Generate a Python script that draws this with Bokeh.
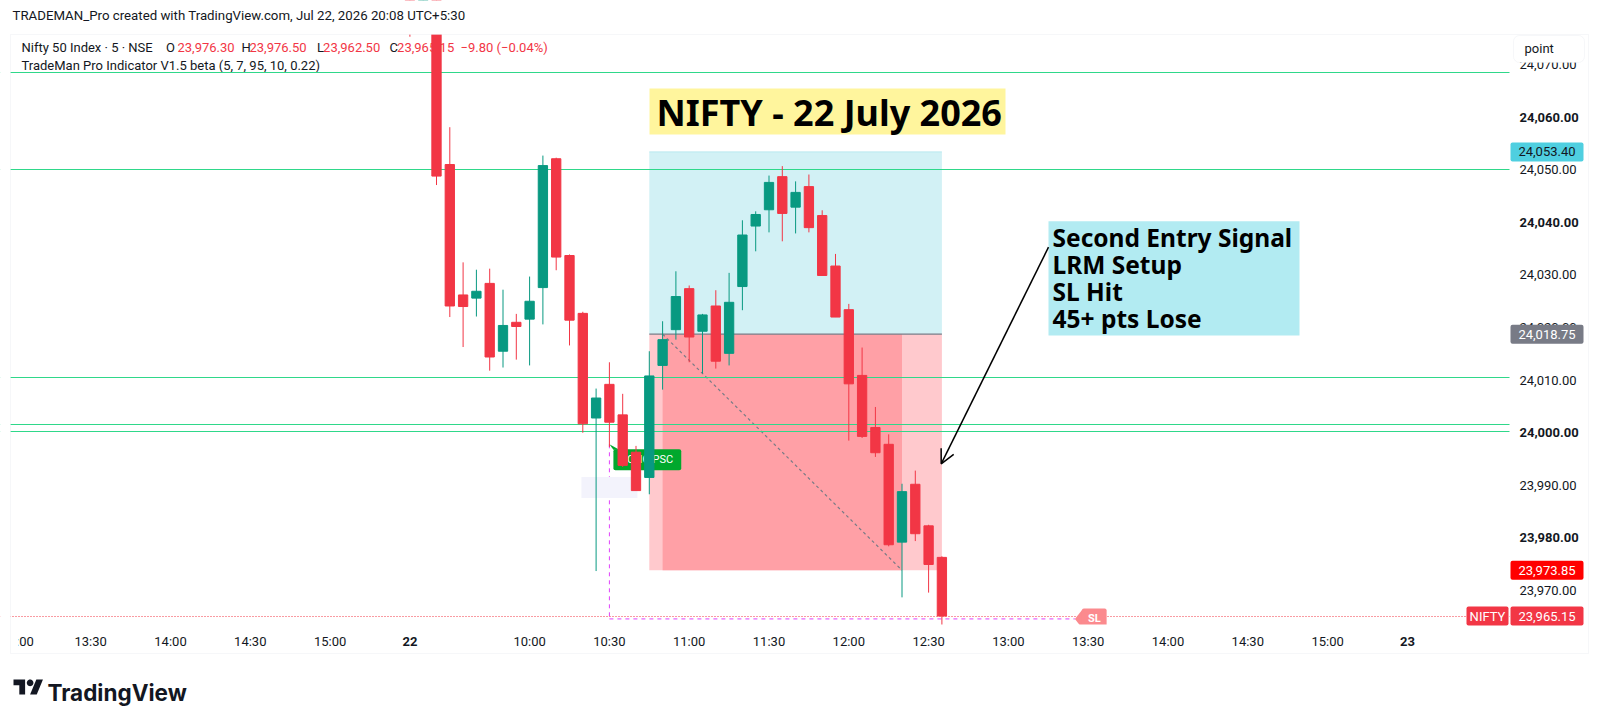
from bokeh.plotting import figure
from bokeh.models import (Range1d, FixedTicker, NumeralTickFormatter, Label, BoxAnnotation,
                          Arrow, OpenHead, PolyAnnotation, ColumnDataSource)
from bokeh.embed import file_html
from bokeh.resources import INLINE
from bokeh.core.properties import value
import math

# ---------------- data (5-minute bars, index 0 = 09:15 on 22 Jul) ----------------
bar_index = list(range(41))
opens = [24100.0, 24086.0, 24090.0, 24051.0, 24026.2, 24025.6, 24028.4, 24015.5, 24021.0, 24021.6,
         24027.6, 24052.1, 24033.7, 24022.7, 24002.8, 24009.2, 24003.4, 23996.3, 23991.5, 24012.8,
         24019.6, 24027.4, 24019.3, 24024.1, 24015.1, 24027.8, 24039.3, 24042.4, 24048.7, 24042.9,
         24046.8, 24041.3, 24031.7, 24023.4, 24010.9, 24001.0, 23997.8, 23979.2, 23990.2, 23982.3,
         23976.30]
highs = [24108.0, 24094.0, 24092.0, 24058.1, 24032.4, 24031.0, 24031.2, 24027.2, 24022.6, 24029.7,
         24052.7, 24052.3, 24033.9, 24023.0, 24008.4, 24013.4, 24007.4, 23997.5, 24015.5, 24021.2,
         24030.7, 24028.0, 24022.6, 24027.1, 24030.4, 24040.4, 24042.1, 24048.9, 24050.7, 24047.8,
         24049.1, 24042.3, 24034.0, 24024.5, 24016.2, 24004.9, 23999.7, 23990.3, 23992.8, 23982.5,
         23976.50]
lows = [24075.3, 24079.0, 24047.1, 24022.0, 24016.3, 24022.1, 24011.8, 24012.4, 24013.9, 24012.8,
        24020.6, 24030.9, 24016.6, 24000.0, 23973.7, 23997.3, 23993.5, 23989.0, 23988.3, 24008.2,
        24017.7, 24013.4, 24011.3, 24012.2, 24012.8, 24023.3, 24034.5, 24038.1, 24036.4, 24037.9,
        24038.1, 24029.9, 24022.0, 23998.5, 23999.0, 23995.4, 23978.4, 23968.7, 23979.4, 23969.6,
        23962.50]
closes = [24086.0, 24090.0, 24048.8, 24024.1, 24024.0, 24026.9, 24014.4, 24020.4, 24020.2, 24025.0,
          24050.8, 24033.4, 24021.4, 24001.7, 24006.6, 24002.0, 23993.8, 23989.0, 24010.8, 24017.7,
          24025.9, 24018.2, 24022.4, 24013.6, 24024.8, 24037.6, 24041.5, 24047.6, 24041.7, 24045.7,
          24039.0, 24029.9, 24022.0, 24009.3, 23999.3, 23996.2, 23978.7, 23988.8, 23980.8, 23974.95,
          23965.15]

time_tick_pos = [-24, -18, -12, -6, 0, 9, 15, 21, 27, 33, 39, 45, 51, 57, 63, 69, 75]
time_tick_labels = ["13:30", "14:00", "14:30", "15:00", "22", "10:00", "10:30", "11:00",
                    "11:30", "12:00", "12:30", "13:00", "13:30", "14:00", "14:30", "15:00", "23"]
bold_time_labels = ["22", "23"]
edge_tick_label = "13:00"     # first time label, cut by the left edge of the scale

price_ticks = [23970, 23980, 23990, 24000, 24010, 24020, 24030, 24040, 24050, 24060, 24070]
bold_price_ticks = [23980, 24000, 24040, 24060]

level_lines = [24068.55, 24050.00, 24010.45, 24001.50, 24000.25]

pos_start, pos_entry_bar, pos_exit_bar, pos_end = 18, 19, 37, 40
entry_price, target_price, stop_price = 24018.75, 24053.40, 23973.85

signal_bar, signal_price = 15, 23997.8
sl_line_price, sl_line_end = 23964.6, 50.0

# ---------------- layout (the frame is the whole canvas) ----------------
W, H = 1600, 721
KX, KY = 13.3, 5.259            # px per bar, px per point
XMIN = -409.4 / KX
XMAX = XMIN + W / KX
YMAX = 24060 + 116.7 / KY
YMIN = YMAX - H / KY
PANE_L, PANE_R, PANE_T, PANE_B = 10, 1509, 34, 624   # chart pane in pixels


def sx(X):
    return X


def sy(Y):
    return H - Y


def dx(X):
    return XMIN + X / KX


def dy(Y):
    return YMAX - Y / KY


def ps(price):
    return (price - YMIN) * KY


UI = "Roboto"
INK = "#131722"
UP, DN = "#089981", "#f23645"
PSC_GREEN, SL_PINK = "#00a82d", "#fb8a8e"

p = figure(width=W, height=H, x_range=Range1d(XMIN, XMAX), y_range=Range1d(YMIN, YMAX),
           output_backend="svg", toolbar_location=None, y_axis_location="right",
           min_border=0, min_border_left=0, min_border_right=0, min_border_top=0,
           min_border_bottom=0, background_fill_color="white", border_fill_color="white")
p.xgrid.visible = False
p.ygrid.visible = False
p.outline_line_color = None

# ---- axes, drawn at the edges of the chart pane ----
ya = p.yaxis[0]
ya.fixed_location = dx(PANE_R)
ya.ticker = FixedTicker(ticks=price_ticks, minor_ticks=[])
ya.formatter = NumeralTickFormatter(format="0,0.00")
ya.major_label_overrides = {t: "" for t in bold_price_ticks}
ya.axis_line_color = None
ya.major_tick_line_color = None
ya.minor_tick_line_color = None
ya.major_tick_out = 0
ya.major_tick_in = 0
ya.major_label_standoff = 10
ya.major_label_text_font = UI
ya.major_label_text_font_size = "13px"
ya.major_label_text_color = INK

xa = p.xaxis[0]
xa.fixed_location = dy(PANE_B)
xa.ticker = FixedTicker(ticks=time_tick_pos, minor_ticks=[])
xa.major_label_overrides = {t: ("" if l in bold_time_labels else l)
                            for t, l in zip(time_tick_pos, time_tick_labels)}
xa.axis_line_color = None
xa.major_tick_line_color = None
xa.minor_tick_line_color = None
xa.major_tick_out = 0
xa.major_tick_in = 0
xa.major_label_standoff = 9
xa.major_label_text_font = UI
xa.major_label_text_font_size = "13px"
xa.major_label_text_color = INK

# ---- legend (under the candles) ----
o, h, l, c = opens[-1], highs[-1], lows[-1], closes[-1]
chg = c - closes[-2]
pct = chg / closes[-2] * 100
legend_parts = [("Nifty 50 Index · 5 · NSE", 21, INK), ("O", 165.5, INK), (f"{o:,.2f}", 177, DN),
                ("H", 241, INK), (f"{h:,.2f}", 249, DN), ("L", 316.5, INK), (f"{l:,.2f}", 322.6, DN),
                ("C", 389, INK), (f"{c:,.2f}", 396.6, DN),
                (f"{chg:.2f} ({pct:.2f}%)".replace("-", "\u2212"), 460, DN)]
for txt, X, colr in legend_parts:
    p.add_layout(Label(x=sx(X), y=sy(47), x_units="screen", y_units="screen", text=txt,
                       text_baseline="middle", text_font=UI, text_font_size="13px",
                       text_color=colr, level="underlay"))
p.add_layout(Label(x=sx(21), y=sy(65), x_units="screen", y_units="screen",
                   text="TradeMan Pro Indicator V1.5 beta (5, 7, 95, 10, 0.22)",
                   text_baseline="middle", text_font=UI, text_font_size="13px", text_color=INK,
                   level="underlay"))

# ---- position tool (long) ----
p.quad(left=[pos_start], right=[pos_end], bottom=[entry_price], top=[target_price],
       fill_color="#d2f1f5", line_color=None)
p.quad(left=[pos_start], right=[pos_end], bottom=[stop_price], top=[entry_price],
       fill_color="#ffc9cd", line_color=None)
p.quad(left=[pos_entry_bar], right=[pos_exit_bar], bottom=[stop_price], top=[entry_price],
       fill_color="#ffa0a6", line_color=None)
p.segment(x0=[pos_start], x1=[pos_end], y0=[target_price], y1=[target_price],
          line_color="#b8e8ef", line_width=1)
p.segment(x0=[pos_start], x1=[pos_end], y0=[entry_price], y1=[entry_price],
          line_color="#787b86", line_width=1.2)
p.segment(x0=[pos_entry_bar], x1=[pos_exit_bar], y0=[entry_price], y1=[stop_price],
          line_color="#787b86", line_width=1.2, line_dash="3 3")

# ---- indicator levels ----
p.hspan(y=level_lines, line_color="#2fd88a", line_width=1.2)

# ---- signal lines (magenta) ----
p.segment(x0=[signal_bar], x1=[signal_bar], y0=[signal_price], y1=[sl_line_price],
          line_color="#e040fb", line_width=1, line_dash="4 4")
p.segment(x0=[signal_bar], x1=[sl_line_end], y0=[sl_line_price], y1=[sl_line_price],
          line_color="#e040fb", line_width=1, line_dash="4 4")

# hidden label background and the signal label (with its pointer)
p.rect(x=[signal_bar], y=[signal_price - 43.2 / KY], width=56, height=21,
       width_units="screen", height_units="screen", fill_color="#f3f3fc", line_color=None)
p.patch(x=[signal_bar, signal_bar + 4 / KX, signal_bar + 10 / KX],
        y=[signal_price, signal_price - 5.5 / KY, signal_price - 5.5 / KY],
        fill_color=PSC_GREEN, line_color=None)
p.text(x=[signal_bar], y=[signal_price], text=["LONG PSC"], x_offset=4, y_offset=5,
       anchor="top_left", text_color="white", text_font=value(UI), text_font_size="11px",
       background_fill_color=PSC_GREEN, padding=[8, 8, 4, 4], border_radius=2)

# ---- current price line ----
p.hspan(y=[closes[-1]], line_color=DN, line_width=1, line_dash="1 2")

# ---- candles ----
src = ColumnDataSource(dict(
    x=bar_index, o=opens, h=highs, l=lows, c=closes,
    top=[max(a, b) for a, b in zip(opens, closes)],
    bot=[min(a, b) for a, b in zip(opens, closes)],
    col=[UP if b >= a else DN for a, b in zip(opens, closes)]))
p.segment(x0="x", x1="x", y0="l", y1="h", line_color="col", line_width=1, source=src)
p.vbar(x="x", width=0.7, top="top", bottom="bot", fill_color="col", line_color="col", source=src)

# ---- SL label at the end of the signal line (with its pointer) ----
p.patch(x=[sl_line_end, sl_line_end + 7.5 / KX, sl_line_end + 7.5 / KX],
        y=[sl_line_price, sl_line_price + 9.5 / KY, sl_line_price - 9.5 / KY],
        fill_color=SL_PINK, line_color=None)
p.text(x=[sl_line_end], y=[sl_line_price], text=["SL"], x_offset=7, anchor="center_left",
       text_color="white", text_font=value(UI), text_font_size="11px", text_font_style="bold",
       background_fill_color=SL_PINK, padding=[6, 6, 4, 4], border_radius=2)

# ---- white masks outside the chart pane (clip) ----
p.quad(left=[XMIN - 10], right=[XMAX + 10], bottom=[dy(PANE_T)], top=[YMAX + 10],
       fill_color="white", line_color=None)
p.quad(left=[XMIN - 10], right=[XMAX + 10], bottom=[YMIN - 10], top=[dy(PANE_B)],
       fill_color="white", line_color=None)
p.quad(left=[dx(PANE_R)], right=[XMAX + 10], bottom=[YMIN - 10], top=[YMAX + 10],
       fill_color="white", line_color=None)
p.quad(left=[XMIN - 10], right=[dx(PANE_L)], bottom=[YMIN - 10], top=[YMAX + 10],
       fill_color="white", line_color=None)

# first time label, inside the canvas, partly hidden by the left edge of the scale
p.text(x=[dx(1)], y=[dy(641)], text=[edge_tick_label], text_align="left",
       text_baseline="middle", text_font=value(UI), text_font_size="13px", text_color=INK)
p.quad(left=[XMIN - 10], right=[dx(17.8)], bottom=[dy(652)], top=[dy(628)],
       fill_color="white", line_color=None)

# bold scale labels
for t, lab in zip(time_tick_pos, time_tick_labels):
    if lab in bold_time_labels:
        p.add_layout(Label(x=t, y=sy(641), y_units="screen", text=lab, text_align="center",
                           text_baseline="middle", text_font=UI, text_font_size="13px",
                           text_font_style="bold", text_color=INK))
for t in bold_price_ticks:
    p.add_layout(Label(x=sx(PANE_R + 10), x_units="screen", y=t, text=f"{t:,.2f}",
                       text_align="left", text_baseline="middle", text_font=UI,
                       text_font_size="13px", text_font_style="bold", text_color=INK))

# ---- header ----
p.add_layout(Label(x=sx(12), y=sy(14.5), x_units="screen", y_units="screen",
                   text="TRADEMAN_Pro created with TradingView.com, Jul 22, 2026 20:08 UTC+5:30",
                   text_baseline="middle", text_font=UI, text_font_size="13.25px",
                   text_color=INK))

# ---- title box ----
p.add_layout(BoxAnnotation(left=sx(649), right=sx(1005), top=sy(88), bottom=sy(134),
                           left_units="screen", right_units="screen", top_units="screen",
                           bottom_units="screen", fill_color="#fff59d", fill_alpha=1,
                           line_color=None))
p.add_layout(Label(x=sx(656), y=sy(111.5), x_units="screen", y_units="screen",
                   text="NIFTY - 22 July 2026", text_baseline="middle", text_font="Noto Sans",
                   text_font_size="36px", text_font_style="bold", text_color="black"))

# ---- annotation box ----
p.add_layout(BoxAnnotation(left=sx(1048), right=sx(1299), top=sy(220.7), bottom=sy(335),
                           left_units="screen", right_units="screen", top_units="screen",
                           bottom_units="screen", fill_color="#b2ebf2", fill_alpha=1,
                           line_color=None))
for txt, Y in [("Second Entry Signal", 237), ("LRM Setup", 264), ("SL Hit", 291),
               ("45+ pts Lose", 317.5)]:
    p.add_layout(Label(x=sx(1052), y=sy(Y), x_units="screen", y_units="screen", text=txt,
                       text_baseline="middle", text_font="Noto Sans", text_font_size="24.5px",
                       text_font_style="bold", text_color="black"))
p.add_layout(Arrow(x_start=sx(1048), y_start=sy(246.7), x_end=sx(940.7), y_end=sy(463.3),
                   start_units="screen", end_units="screen", line_color="black", line_width=1.5,
                   end=OpenHead(size=14, line_color="black", line_width=1.5)))


# ---- price tags on the scale ----
def tag(price, text, bg, fg, X0=1510, X1=1583):
    yc = ps(price)
    p.add_layout(BoxAnnotation(left=sx(X0), right=sx(X1), top=yc + 9.5, bottom=yc - 9.5,
                               left_units="screen", right_units="screen", top_units="screen",
                               bottom_units="screen", fill_color=bg, fill_alpha=1,
                               line_color=None, border_radius=2))
    p.add_layout(Label(x=sx((X0 + X1) / 2), y=yc, x_units="screen", y_units="screen", text=text,
                       text_align="center", text_baseline="middle", text_font=UI,
                       text_font_size="13px", text_color=fg))


tag(target_price, f"{target_price:,.2f}", "#4fcfe0", INK)
tag(entry_price, f"{entry_price:,.2f}", "#787b86", "white")
tag(stop_price, f"{stop_price:,.2f}", "#ff0000", "white")
tag(closes[-1], f"{closes[-1]:,.2f}", DN, "white")
tag(closes[-1], "NIFTY", DN, "white", 1466, 1508)

# ---- "point" button ----
p.add_layout(BoxAnnotation(left=sx(1513), right=sx(1584), top=sy(35), bottom=sy(62),
                           left_units="screen", right_units="screen", top_units="screen",
                           bottom_units="screen", fill_color="white", fill_alpha=1,
                           line_color="#e0e3eb", line_width=1, border_radius=6))
p.add_layout(Label(x=sx(1524), y=sy(48), x_units="screen", y_units="screen", text="point",
                   text_baseline="middle", text_font=UI, text_font_size="13px", text_color=INK))

# ---- chart border ----
p.add_layout(BoxAnnotation(left=sx(10), right=sx(1588), top=sy(34), bottom=sy(653),
                           left_units="screen", right_units="screen", top_units="screen",
                           bottom_units="screen", fill_alpha=0, line_color="#e0e3eb",
                           line_width=1))

# ---- TradingView logo ----
LS, LX, LY = 0.83, 13, 679


def lx(u):
    return sx(LX + u * LS)


def ly(v):
    return sy(LY + (v - 4) * LS)


p.add_layout(PolyAnnotation(xs=[lx(u) for u in (14, 7, 7, 0, 0, 14)],
                            ys=[ly(v) for v in (22, 22, 11, 11, 4, 4)],
                            xs_units="screen", ys_units="screen", fill_color=INK,
                            fill_alpha=1, line_color=None))
p.add_layout(PolyAnnotation(xs=[lx(u) for u in (28, 20, 27.5, 35.5)],
                            ys=[ly(v) for v in (22, 22, 4, 4)],
                            xs_units="screen", ys_units="screen", fill_color=INK,
                            fill_alpha=1, line_color=None))
p.add_layout(PolyAnnotation(xs=[lx(20 + 4 * math.cos(k * math.pi / 12)) for k in range(24)],
                            ys=[ly(8 + 4 * math.sin(k * math.pi / 12)) for k in range(24)],
                            xs_units="screen", ys_units="screen", fill_color=INK,
                            fill_alpha=1, line_color=None))
p.add_layout(Label(x=sx(47), y=sy(692), x_units="screen", y_units="screen", text="TradingView",
                   text_baseline="alphabetic", text_font="Inter", text_font_size="22.5px",
                   text_font_style="bold", text_color=INK))

open("out.html", "w").write(file_html(p, INLINE))
